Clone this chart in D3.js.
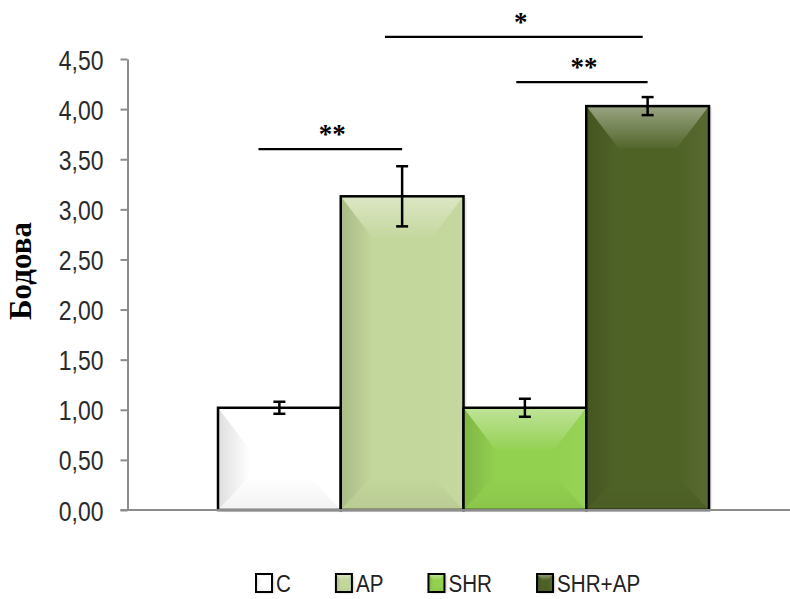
<!DOCTYPE html>
<html>
<head>
<meta charset="utf-8">
<script src="https://cdn.jsdelivr.net/npm/d3@7/dist/d3.min.js"></script>
<style>
  html, body { margin: 0; padding: 0; background: #fff; }
  svg { display: block; }
</style>
</head>
<body>
<svg id="chart" width="790" height="599"></svg>
<script>
// Groups, mean scores and error (± half-range) per group
const groups = ["C", "AP", "SHR", "SHR+AP"];
const means = [1.02, 3.13, 1.02, 4.03];
const errors = [0.06, 0.30, 0.09, 0.09];
const fills = ["#ffffff", "#c3d69b", "#92d050", "#4f6228"];
const yTicks = [0, 0.5, 1, 1.5, 2, 2.5, 3, 3.5, 4, 4.5];

// Significance brackets: [from group, fraction across bar, to group, fraction, level, label]
const sigFrom = ["C", "SHR", "AP"];
const sigFromFrac = [0.33, 0.43, 0.36];
const sigTo = ["AP", "SHR+AP", "SHR+AP"];
const sigToFrac = [0.5, 0.5, 0.46];
const sigLevel = [3.6, 4.27, 4.72];
const sigLabel = ["**", "**", "*"];

const svg = d3.select("#chart");
const W = 790, H = 599;
const axisX = 127.5, baseY = 510, topY = 59;

const y = d3.scaleLinear().domain([0, 4.5]).range([baseY, topY]);
const x = d3.scaleBand().domain(groups).range([218, 709]).padding(0);

const defs = svg.append("defs");
function grad(id, x1, y1, x2, y2, stops) {
  const g = defs.append("linearGradient").attr("id", id)
    .attr("x1", x1).attr("y1", y1).attr("x2", x2).attr("y2", y2);
  stops.forEach(s => g.append("stop").attr("offset", s[0])
    .attr("stop-color", s[1]).attr("stop-opacity", s[2]));
}
grad("bvTop", 0, 0, 0, 1, [[0, "#fff", 0.42], [1, "#fff", 0.03]]);
grad("bvLeft", 0, 0, 1, 0, [[0, "#000", 0.13], [1, "#000", 0.0]]);
grad("bvRight", 0, 0, 1, 0, [[0, "#fff", 0.0], [1, "#fff", 0.05]]);
grad("bvBottom", 0, 0, 0, 1, [[0, "#000", 0.0], [1, "#000", 0.05]]);
const shadow = defs.append("filter").attr("id", "shadow")
  .attr("x", "-10%").attr("y", "-10%").attr("width", "130%").attr("height", "130%");
shadow.append("feDropShadow").attr("dx", 2).attr("dy", 1)
  .attr("stdDeviation", 1.2).attr("flood-color", "#000").attr("flood-opacity", 0.2);

// Bevelled rectangle: base fill plus four shaded facets
function bevelRect(g, x0, y0, w, h, fill, bx, byT, byB, sw) {
  const x1 = x0 + w, y1 = y0 + h;
  bx = Math.min(bx, w / 2);
  byT = Math.min(byT, h / 2);
  byB = Math.min(byB, h / 2);
  g.append("rect").attr("x", x0).attr("y", y0).attr("width", w).attr("height", h)
    .attr("fill", fill).attr("filter", "url(#shadow)");
  const pts = a => a.map(p => p.join(",")).join(" ");
  g.append("polygon").attr("points", pts([[x0, y0], [x1, y0], [x1 - bx, y0 + byT], [x0 + bx, y0 + byT]]))
    .attr("fill", "url(#bvTop)");
  g.append("polygon").attr("points", pts([[x0, y0], [x0 + bx, y0 + byT], [x0 + bx, y1 - byB], [x0, y1]]))
    .attr("fill", "url(#bvLeft)");
  g.append("polygon").attr("points", pts([[x1, y0], [x1, y1], [x1 - bx, y1 - byB], [x1 - bx, y0 + byT]]))
    .attr("fill", "url(#bvRight)");
  g.append("polygon").attr("points", pts([[x0, y1], [x0 + bx, y1 - byB], [x1 - bx, y1 - byB], [x1, y1]]))
    .attr("fill", "url(#bvBottom)");
  g.append("rect").attr("x", x0).attr("y", y0).attr("width", w).attr("height", h)
    .attr("fill", "none").attr("stroke", "#000").attr("stroke-width", sw);
}

// Bars
const bars = svg.append("g");
groups.forEach((gname, i) => {
  const g = bars.append("g");
  bevelRect(g, x(gname), y(means[i]), x.bandwidth(), y(0) - y(means[i]), fills[i], 32, 42, 34, 2.5);
});

// Axes
const yAxis = d3.axisLeft(y).tickValues(yTicks).tickSize(7).tickSizeOuter(0)
  .tickFormat(d => d3.format(".2f")(d).replace(".", ","));
const ya = svg.append("g").attr("transform", `translate(${axisX},0)`).call(yAxis);
ya.select(".domain").attr("stroke", "#8c8c8c").attr("stroke-width", 2);
ya.selectAll(".tick line").attr("stroke", "#8c8c8c").attr("stroke-width", 2);
ya.selectAll(".tick text")
  .attr("x", 0)
  .attr("transform", "translate(-24,0) scale(0.82,1)")
  .attr("dy", "0.36em")
  .attr("font-family", "'Liberation Sans', Arial, sans-serif")
  .attr("font-size", 28)
  .attr("fill", "#2a2a2a");

svg.append("line").attr("x1", axisX - 7).attr("x2", W).attr("y1", baseY).attr("y2", baseY)
  .attr("stroke", "#8c8c8c").attr("stroke-width", 2);

// Error bars
const eb = svg.append("g").attr("stroke", "#000").attr("stroke-width", 2.5);
groups.forEach((gname, i) => {
  const cx = x(gname) + x.bandwidth() / 2;
  const hi = y(means[i] + errors[i]), lo = y(means[i] - errors[i]);
  eb.append("line").attr("x1", cx).attr("x2", cx).attr("y1", hi).attr("y2", lo);
  eb.append("line").attr("x1", cx - 6).attr("x2", cx + 6).attr("y1", hi).attr("y2", hi);
  eb.append("line").attr("x1", cx - 6).attr("x2", cx + 6).attr("y1", lo).attr("y2", lo);
});

// Significance brackets
const sig = svg.append("g");
sigLabel.forEach((lab, i) => {
  const xa = x(sigFrom[i]) + sigFromFrac[i] * x.bandwidth();
  const xb = x(sigTo[i]) + sigToFrac[i] * x.bandwidth();
  const yy = y(sigLevel[i]);
  sig.append("line").attr("x1", xa).attr("x2", xb).attr("y1", yy).attr("y2", yy)
    .attr("stroke", "#000").attr("stroke-width", 2.2);
  sig.append("text").attr("x", (xa + xb) / 2 + (lab.length === 1 ? 7 : 2)).attr("y", yy - 6)
    .attr("text-anchor", "middle")
    .attr("font-family", "'Liberation Serif', 'Times New Roman', serif")
    .attr("font-weight", "bold")
    .attr("font-size", 27).attr("fill", "#000").text(lab);
});

// Y axis title
svg.append("text")
  .attr("transform", "translate(31,271) rotate(-90)")
  .attr("text-anchor", "middle")
  .attr("font-family", "'Liberation Serif', 'Times New Roman', serif")
  .attr("font-weight", "bold").attr("font-size", 31).attr("fill", "#000")
  .text("Бодова");

// Legend
const leg = svg.append("g");
const sx = 0.86;
let lx = 256;
groups.forEach((gname, i) => {
  const g = leg.append("g");
  bevelRect(g, lx, 574, 16, 18, fills[i], 5, 6, 5, 2);
  const t = g.append("text")
    .attr("transform", `translate(${lx + 20},592) scale(${sx},1)`)
    .attr("font-family", "'Liberation Sans', Arial, sans-serif")
    .attr("font-size", 24).attr("fill", "#222").text(gname);
  const tw = t.node().getComputedTextLength() * sx;
  lx = lx + 20 + tw + 45;
});
</script>
</body>
</html>
